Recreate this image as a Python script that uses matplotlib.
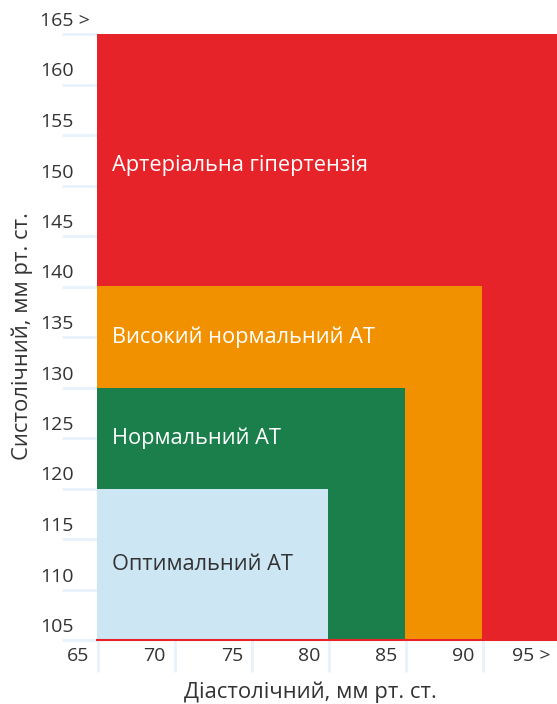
import matplotlib
matplotlib.use("Agg")
import matplotlib.pyplot as plt
from matplotlib.transforms import offset_copy

# ---- data ----
categories = ["Артеріальна гіпертензія", "Високий нормальний АТ", "Нормальний АТ", "Оптимальний АТ"]
diastolic_upper = [95, 90, 85, 80]
systolic_upper = [165, 140, 130, 120]
label_y = [152, 135, 125, 112.5]
colors = ["#E52329", "#F29100", "#1B7F4B", "#CCE6F4"]
text_colors = ["white", "white", "white", "#333333"]
x_ticks = [65, 70, 75, 80, 85, 90, 95]
x_tick_labels = ["65", "70", "75", "80", "85", "90", "95 >"]
y_ticks = [105, 110, 115, 120, 125, 130, 135, 140, 145, 150, 155, 160, 165]
y_tick_labels = ["105", "110", "115", "120", "125", "130", "135", "140", "145", "150", "155", "160", "165 >"]
x_min, y_min = 65, 105

plt.rcParams['font.family'] = ['Open Sans', 'DejaVu Sans']

W, H = 557, 704
fig = plt.figure(figsize=(W / 100, H / 100), dpi=100)
ax = fig.add_axes([0, 0, 1, 1])

def px2x(p):
    return 65 + (p - 97) / 77 * 5

def px2y(q):
    return 165 - (q - 34) / 50.5 * 5

ax.set_xlim(px2x(0), px2x(W))
ax.set_ylim(px2y(H), px2y(0))
ax.axis("off")

grid_c = "#E8F2FB"
# horizontal grid lines (visible left of the boxes)
for v in y_ticks:
    ax.plot([px2x(62), x_min], [v, v], color=grid_c, lw=2, zorder=0, solid_capstyle="butt")
# vertical grid lines (visible below the boxes)
for v in x_ticks:
    ax.plot([v + 1 / 77 * 5, v + 1 / 77 * 5], [px2y(672), y_min], color=grid_c, lw=2,
            zorder=0, solid_capstyle="butt")

# boxes
for i, (cat, xu, yu, c) in enumerate(zip(categories, diastolic_upper, systolic_upper, colors)):
    ax.bar(x_min, yu - y_min, width=xu - x_min, bottom=y_min, align="edge",
           color=c, edgecolor="none", zorder=2 + i)

# bottom red line
ax.plot([x_min, px2x(W)], [y_min, y_min], color="#E52329", lw=1.5, zorder=10)

# box labels
for cat, ly, tc in zip(categories, label_y, text_colors):
    t = offset_copy(ax.transData, fig=fig, x=15 * 0.72, y=0, units="points")
    ax.text(x_min, ly, cat, transform=t, color=tc, fontsize=15.7,
            va="center", ha="left", zorder=20)

# y tick labels
for v, lab in zip(y_ticks, y_tick_labels):
    ax.text(px2x(40), v + 13 / 50.5 * 5, lab, color="#333333", fontsize=14,
            va="center", ha="left")

# x tick labels
for v, lab in zip(x_ticks, x_tick_labels):
    ax.text(v - 8 / 77 * 5, px2y(656), lab, color="#333333", fontsize=14,
            va="center", ha="right")

# axis titles
ax.text(px2x(22), px2y(336), "Систолічний, мм рт. ст.", rotation=90, color="#333333",
        fontsize=15.8, va="center", ha="center")
ax.text(px2x(310), px2y(692), "Діастолічний, мм рт. ст.", color="#333333",
        fontsize=15.8, va="center", ha="center")

fig.savefig("out.png", dpi=100)
